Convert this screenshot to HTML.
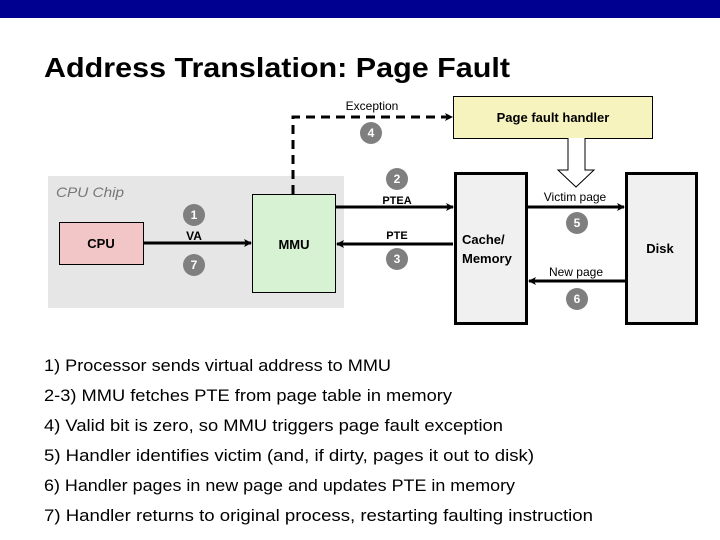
<!DOCTYPE html>
<html><head><meta charset="utf-8"><style>
html,body{margin:0;padding:0;background:#fff;}
svg{display:block;font-family:"Liberation Sans",sans-serif;}
</style></head><body>
<svg width="720" height="540" viewBox="0 0 720 540" xmlns="http://www.w3.org/2000/svg">
<defs>
<marker id="ah" markerWidth="8" markerHeight="8" refX="7" refY="4" orient="auto" markerUnits="userSpaceOnUse">
<path d="M0,0 L8,4 L0,8 L2,4 z" fill="#000"/></marker>
</defs>
<rect x="0" y="0" width="720" height="18" fill="#000090"/>
<text x="44" y="77" font-size="28" font-weight="bold" textLength="466" lengthAdjust="spacingAndGlyphs">Address Translation: Page Fault</text>

<rect x="48" y="176" width="296" height="132" fill="#e6e6e6"/>
<text x="56" y="197" font-size="14" font-style="italic" fill="#777" textLength="68" lengthAdjust="spacingAndGlyphs">CPU Chip</text>

<rect x="59.5" y="222.5" width="84" height="42" fill="#f2c6c6" stroke="#000"/>
<text x="101" y="248" font-size="13" font-weight="bold" text-anchor="middle">CPU</text>
<rect x="252.5" y="194.5" width="83" height="98" fill="#d6f2d2" stroke="#000"/>
<text x="294" y="249" font-size="13" font-weight="bold" text-anchor="middle">MMU</text>

<rect x="453.5" y="96.5" width="199" height="42" fill="#f7f3bf" stroke="#000"/>
<text x="553" y="122" font-size="13" font-weight="bold" text-anchor="middle">Page fault handler</text>

<rect x="455.5" y="173.5" width="71" height="150" fill="#f0f0f0" stroke="#000" stroke-width="3"/>
<text x="462" y="244" font-size="13" font-weight="bold">Cache/</text>
<text x="462" y="263" font-size="13" font-weight="bold">Memory</text>
<rect x="626.5" y="173.5" width="70" height="150" fill="#f0f0f0" stroke="#000" stroke-width="3"/>
<text x="660" y="253" font-size="13" font-weight="bold" text-anchor="middle">Disk</text>

<path d="M293,194 V117 H452" fill="none" stroke="#000" stroke-width="3" stroke-dasharray="9,6" marker-end="url(#ah)"/>
<text x="372" y="110" font-size="12" text-anchor="middle">Exception</text>

<path d="M568,138 V170 H558 L576,187 L594,170 H585 V138" fill="#fff" stroke="#000" stroke-width="1"/>

<line x1="144" y1="243" x2="251" y2="243" stroke="#000" stroke-width="3" marker-end="url(#ah)"/>
<text x="194" y="240" font-size="12" font-weight="bold" text-anchor="middle">VA</text>
<line x1="336" y1="207" x2="453" y2="207" stroke="#000" stroke-width="3" marker-end="url(#ah)"/>
<text x="397" y="204" font-size="11" font-weight="bold" text-anchor="middle">PTEA</text>
<line x1="453" y1="244" x2="337" y2="244" stroke="#000" stroke-width="3" marker-end="url(#ah)"/>
<text x="397" y="239" font-size="11" font-weight="bold" text-anchor="middle">PTE</text>
<line x1="528" y1="207" x2="624" y2="207" stroke="#000" stroke-width="3" marker-end="url(#ah)"/>
<text x="575" y="201" font-size="12" text-anchor="middle">Victim page</text>
<line x1="625" y1="281" x2="529" y2="281" stroke="#000" stroke-width="3" marker-end="url(#ah)"/>
<text x="576" y="276" font-size="12" text-anchor="middle">New page</text>

<g fill="#7f7f7f"><circle cx="194" cy="215" r="11"/><circle cx="194" cy="265" r="11"/><circle cx="371" cy="133" r="11"/><circle cx="397" cy="179" r="11"/><circle cx="397" cy="259" r="11"/><circle cx="577" cy="223" r="11"/><circle cx="577" cy="299" r="11"/></g>
<g fill="#fff" font-size="12" font-weight="bold" text-anchor="middle">
<text x="194" y="219">1</text><text x="194" y="269">7</text><text x="371" y="137">4</text><text x="397" y="183">2</text><text x="397" y="263">3</text><text x="577" y="227">5</text><text x="577" y="303">6</text></g>

<g font-size="17">
<text x="44" y="371" textLength="347" lengthAdjust="spacingAndGlyphs">1) Processor sends virtual address to MMU</text>
<text x="44" y="401" textLength="408" lengthAdjust="spacingAndGlyphs">2-3) MMU fetches PTE from page table in memory</text>
<text x="44" y="431" textLength="459" lengthAdjust="spacingAndGlyphs">4) Valid bit is zero, so MMU triggers page fault exception</text>
<text x="44" y="461" textLength="490" lengthAdjust="spacingAndGlyphs">5) Handler identifies victim (and, if dirty, pages it out to disk)</text>
<text x="44" y="491" textLength="471" lengthAdjust="spacingAndGlyphs">6) Handler pages in new page and updates PTE in memory</text>
<text x="44" y="521" textLength="549" lengthAdjust="spacingAndGlyphs">7) Handler returns to original process, restarting faulting instruction</text>
</g>
</svg>
</body></html>
